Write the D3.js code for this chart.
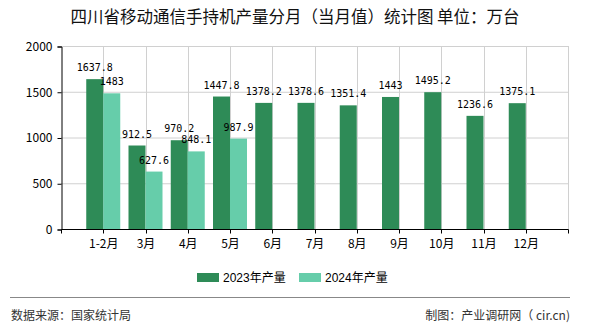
<!DOCTYPE html>
<html>
<head>
<meta charset="utf-8">
<script src="https://cdn.jsdelivr.net/npm/d3@7/dist/d3.min.js"></script>
<style>
  html, body { margin: 0; padding: 0; background: #fff; }
  svg { display: block; }
</style>
</head>
<body>
<svg id="chart" width="590" height="330"></svg>
<script>
const categories = ["1-2月", "3月", "4月", "5月", "6月", "7月", "8月", "9月", "10月", "11月", "12月"];
const series2023 = [1637.8, 912.5, 970.2, 1447.8, 1378.2, 1378.6, 1351.4, 1443, 1495.2, 1236.6, 1375.1];
const series2024 = [1483, 627.6, 848.1, 987.9];
const seriesNames = ["2023年产量", "2024年产量"];
const yTicks = [0, 500, 1000, 1500, 2000];
const colors = ["#2e8b57", "#66cdaa"];

const svg = d3.select("#chart");
const plotL = 61, plotR = 568, plotT = 46, plotB = 229;
const step = (plotR - plotL) / (categories.length + 1);
const barW = 17;

const x = d3.scalePoint().domain(categories).range([plotL + step, plotR - step]);
const y = d3.scaleLinear().domain([0, 2000]).range([plotB, plotT]);

const cjk = "'Noto Sans CJK SC', 'DejaVu Sans', sans-serif";
const mono = "'DejaVu Sans Mono', 'Liberation Mono', monospace";

// title
svg.append("text")
  .attr("x", 295).attr("y", 23)
  .attr("text-anchor", "middle")
  .style("font-family", cjk).style("font-size", "16.5px").attr("fill", "#111")
  .text("四川省移动通信手持机产量分月（当月值）统计图 单位：万台");

// horizontal gridlines
svg.append("g").selectAll("line").data(yTicks.filter(d => d > 0)).join("line")
  .attr("x1", plotL).attr("x2", plotR)
  .attr("y1", d => y(d) + 0.5).attr("y2", d => y(d) + 0.5)
  .attr("stroke", "#d0d0d0").attr("stroke-width", 1);

// vertical gridlines
const vPos = categories.map(c => x(c)).concat([plotR]);
svg.append("g").selectAll("line").data(vPos).join("line")
  .attr("x1", d => Math.round(d) + 0.5).attr("x2", d => Math.round(d) + 0.5)
  .attr("y1", plotT).attr("y2", plotB)
  .attr("stroke", "#d0d0d0").attr("stroke-width", 1);

// bars 2023
svg.append("g").selectAll("rect").data(series2023).join("rect")
  .attr("x", (d, i) => x(categories[i]) - barW)
  .attr("y", d => y(d))
  .attr("width", barW)
  .attr("height", d => plotB - y(d))
  .attr("fill", colors[0]);

// bars 2024
svg.append("g").selectAll("rect").data(series2024).join("rect")
  .attr("x", (d, i) => x(categories[i]))
  .attr("y", d => y(d))
  .attr("width", barW)
  .attr("height", d => plotB - y(d))
  .attr("fill", colors[1]);

// y axis
const yAxis = d3.axisLeft(y).tickValues(yTicks).tickSize(4).tickPadding(5).tickFormat(d3.format("d"));
const gy = svg.append("g").attr("transform", `translate(${plotL + 0.5},0.5)`).call(yAxis);
gy.select(".domain").attr("stroke", "#000");
gy.selectAll(".tick line").attr("stroke", "#000");
gy.selectAll(".tick text").style("font-family", cjk).style("font-size", "12px").attr("fill", "#000");

// x axis
const gx = svg.append("g").attr("transform", `translate(0.5,${plotB + 0.5})`);
gx.append("line").attr("x1", plotL).attr("x2", plotR).attr("stroke", "#000");
const tickPos = [plotL].concat(categories.map(c => x(c))).concat([plotR]);
gx.selectAll("line.t").data(tickPos).join("line").attr("class", "t")
  .attr("x1", d => Math.round(d)).attr("x2", d => Math.round(d))
  .attr("y1", 0).attr("y2", 4).attr("stroke", "#000");
gx.selectAll("text").data(categories).join("text")
  .attr("x", d => x(d)).attr("y", 18)
  .attr("text-anchor", "middle")
  .style("font-family", cjk).style("font-size", "12px").attr("fill", "#000")
  .text(d => d);

// value labels
svg.append("g").selectAll("text").data(series2023).join("text")
  .attr("x", (d, i) => x(categories[i]) - barW / 2)
  .attr("y", d => y(d) - 8)
  .attr("text-anchor", "middle")
  .style("font-family", mono).style("font-size", "10px").attr("fill", "#000")
  .text(d => d);
svg.append("g").selectAll("text").data(series2024).join("text")
  .attr("x", (d, i) => x(categories[i]) + barW / 2)
  .attr("y", d => y(d) - 8)
  .attr("text-anchor", "middle")
  .style("font-family", mono).style("font-size", "10px").attr("fill", "#000")
  .text(d => d);

// legend
const legendX = [197, 299];
const lg = svg.append("g");
seriesNames.forEach((name, i) => {
  lg.append("rect").attr("x", legendX[i]).attr("y", 273).attr("width", 22).attr("height", 9).attr("fill", colors[i]);
  lg.append("text").attr("x", legendX[i] + 26).attr("y", 282)
    .style("font-family", "'Liberation Sans', 'Noto Sans CJK SC', sans-serif").style("font-size", "12px").attr("fill", "#000")
    .text(name);
});

// footer
svg.append("line").attr("x1", 10).attr("x2", 570).attr("y1", 297.5).attr("y2", 297.5).attr("stroke", "#888").attr("stroke-width", 1);
svg.append("text").attr("x", 11).attr("y", 320)
  .style("font-family", cjk).style("font-size", "12px").attr("fill", "#333")
  .text("数据来源：国家统计局");
svg.append("text").attr("x", 570).attr("y", 320).attr("text-anchor", "end")
  .style("font-family", cjk).style("font-size", "12px").attr("fill", "#333")
  .text("制图：产业调研网（ cir.cn)");
</script>
</body>
</html>
